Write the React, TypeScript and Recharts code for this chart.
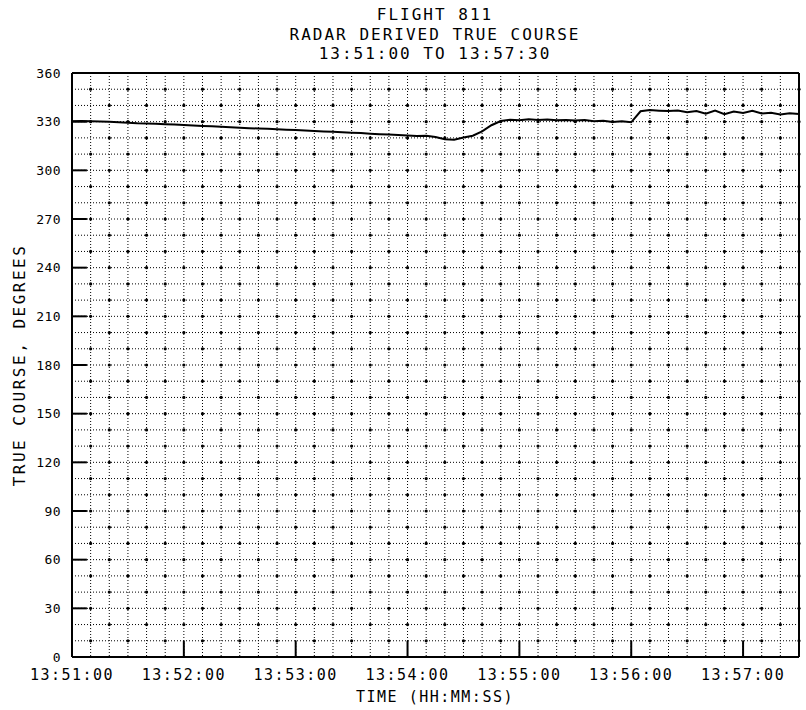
import { LineChart, Line, XAxis, YAxis, CartesianGrid, ReferenceLine, ReferenceDot } from "recharts";

// ─── data ────────────────────────────────────────────────────────────────────

// seconds after 13:51:00
const TIME_SEC = [
  0, 5, 10, 15, 20, 25, 30, 35, 40, 45, 50, 55, 60, 65, 70, 75, 80, 85, 90, 95,
  100, 105, 110, 115, 120, 125, 130, 135, 140, 145, 150, 155, 160, 165, 170, 175,
  180, 185, 190, 195, 200, 205, 210, 215, 220, 225, 230, 235, 240, 245, 250, 255,
  260, 265, 270, 275, 280, 285, 290, 295, 300, 305, 310, 315, 320, 325, 330, 335,
  340, 345, 350, 355, 360, 365, 370, 375, 380, 385, 390,
];

// true course, degrees
const COURSE_DEG = [
  330.3, 330.4, 330.3, 330.1, 329.9, 329.6, 329.3, 329.0, 328.9, 328.7, 328.4,
  328.2, 328.0, 327.7, 327.4, 327.1, 326.8, 326.6, 326.3, 326.0, 325.8, 325.6,
  325.3, 325.0, 324.8, 324.5, 324.3, 324.0, 323.8, 323.5, 323.2, 323.0, 322.6,
  322.3, 322.1, 321.8, 321.5, 321.2, 321.3, 320.6, 319.2, 318.8, 320.2, 321.3,
  324.0, 327.8, 330.4, 331.2, 330.9, 331.5, 331.0, 331.3, 330.8, 331.1, 330.7,
  331.0, 330.3, 330.6, 329.8, 330.2, 329.6, 336.4, 337.2, 336.8, 336.5, 336.9,
  335.8, 336.6, 334.9, 336.9, 334.6, 336.3, 335.4, 336.7, 335.0, 335.5, 334.4,
  335.2, 334.8,
];

const X_LABELS = ["13:51:00", "13:52:00", "13:53:00", "13:54:00", "13:55:00", "13:56:00", "13:57:00"];
const X_GRID = Array.from({ length: 40 }, (_, i) => i * 10);
const X_MAJOR = [60, 120, 180, 240, 300, 360];
const Y_GRID = Array.from({ length: 37 }, (_, i) => i * 10);
const Y_MAJOR = [30, 60, 90, 120, 150, 180, 210, 240, 270, 300, 330];

const data = TIME_SEC.map((t, i) => ({ t, course: COURSE_DEG[i] }));

// plotter grid marks: a dot on every other grid crossing (inner crossings only)
const GRID_DOTS = Y_GRID.slice(1, -1).flatMap((d) =>
  X_GRID.slice(1).filter((t) => (t / 10 + d / 10) % 2 === 0).map((t) => ({ t, d }))
);

const FONT = "'DejaVu Sans Mono', monospace";

export default function App() {
  return (
    <div style={{ position: "relative", width: 806, height: 710, background: "#fff", fontFamily: FONT }}>
      <style>{"body{margin:0}"}</style>

      {/* ── titles ── */}
      {["FLIGHT 811", "RADAR DERIVED TRUE COURSE", "13:51:00 TO 13:57:30"].map((s, i) => (
        <div
          key={s}
          style={{
            position: "absolute",
            left: 235,
            width: 400,
            top: 5 + i * 19.5,
            textAlign: "center",
            fontSize: 16,
            letterSpacing: 2,
            lineHeight: "20px",
            color: "#000",
          }}
        >
          {s}
        </div>
      ))}

      {/* ── y axis title ── */}
      <div
        style={{
          position: "absolute",
          left: 19,
          top: 365,
          transform: "translate(-50%, -50%) rotate(-90deg)",
          whiteSpace: "nowrap",
          fontSize: 16,
          letterSpacing: 2.5,
          color: "#000",
        }}
      >
        TRUE COURSE, DEGREES
      </div>

      {/* ── x axis title ── */}
      <div
        style={{
          position: "absolute",
          left: 235,
          width: 400,
          top: 687,
          textAlign: "center",
          fontSize: 15,
          letterSpacing: 1.5,
          lineHeight: "20px",
          color: "#000",
        }}
      >
        TIME (HH:MM:SS)
      </div>

      <LineChart width={806} height={710} data={data} margin={{ top: 73, right: 7, bottom: 0, left: 0 }}>
        <CartesianGrid stroke="#000" strokeDasharray="1 2" strokeWidth={1} />
        <XAxis
          dataKey="t"
          type="number"
          domain={[0, 390]}
          ticks={X_GRID}
          interval={0}
          tickFormatter={(v) => (v % 60 === 0 ? X_LABELS[v / 60] : "")}
          tickLine={false}
          tickMargin={6}
          height={53}
          axisLine={{ stroke: "#000", strokeWidth: 2 }}
          tick={{ fill: "#000", fontSize: 15, fontFamily: FONT, letterSpacing: 1.5 }}
        />
        <YAxis
          type="number"
          domain={[0, 360]}
          ticks={Y_GRID}
          interval={0}
          tickFormatter={(v) => (v % 30 === 0 ? String(v) : "")}
          tickLine={false}
          tickMargin={5}
          width={72}
          axisLine={{ stroke: "#000", strokeWidth: 2 }}
          tick={{ fill: "#000", fontSize: 13, fontFamily: FONT, letterSpacing: 0.4 }}
        />
        {GRID_DOTS.map((p) => (
          <ReferenceDot key={`g${p.t}-${p.d}`} x={p.t} y={p.d} r={1.6} fill="#000" stroke="none" />
        ))}
        <ReferenceLine y={360} stroke="#000" strokeWidth={2} />
        <ReferenceLine x={390} stroke="#000" strokeWidth={2} />
        {X_MAJOR.map((m) => (
          <ReferenceLine
            key={`xm${m}`}
            segment={[
              { x: m, y: 0 },
              { x: m, y: 10 },
            ]}
            stroke="#000"
            strokeWidth={2}
          />
        ))}
        {Y_MAJOR.map((d) => (
          <ReferenceLine
            key={`ym${d}`}
            segment={[
              { x: 0, y: d },
              { x: 8, y: d },
            ]}
            stroke="#000"
            strokeWidth={2}
          />
        ))}
        <Line
          type="linear"
          dataKey="course"
          stroke="#000"
          strokeWidth={2}
          dot={false}
          isAnimationActive={false}
        />
      </LineChart>
    </div>
  );
}
